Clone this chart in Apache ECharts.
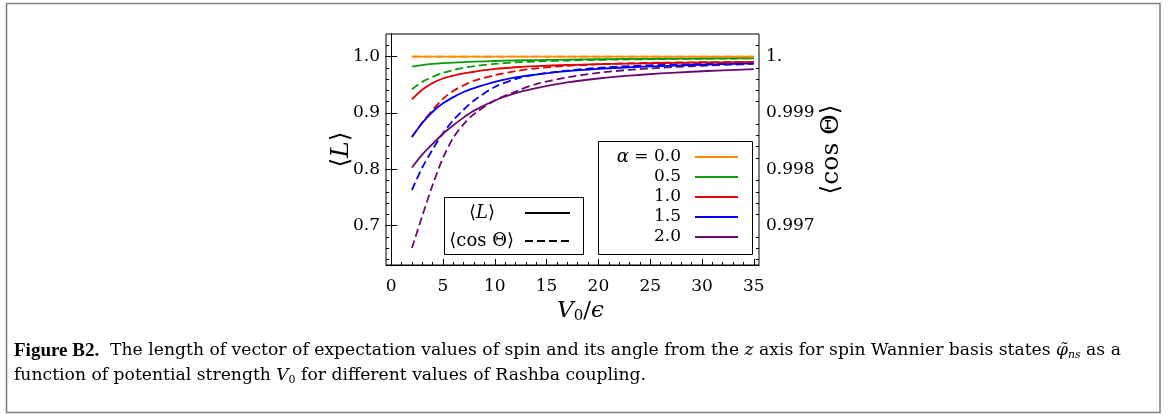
<!DOCTYPE html>
<html>
<head>
<meta charset="utf-8">
<script src="https://cdn.jsdelivr.net/npm/echarts@6/dist/echarts.min.js"></script>
<style>
html,body{margin:0;padding:0;background:#fff;}
#c{width:1174px;height:414px;}
</style>
</head>
<body>
<div id="c"></div>
<script>
// ---------------- data ----------------
const V0 = [2,3,4,5,6,7,8,10,12,14,17,20,23,26,29,32,35];
const alphaLabels = ['0.0','0.5','1.0','1.5','2.0'];
const colors = ['#ff8c00','#0a9a0a','#e00000','#0000ee','#6a0a70'];

// <L> (solid lines, left axis)
const L_a00 = [1,1,1,1,1,1,1,1,1,1,1,1,1,1,1,1,1];
const L_a05 = [0.982,0.9848,0.9868,0.9882,0.9893,0.9902,0.9909,0.9921,0.993,0.9937,0.9946,0.9952,0.9957,0.9961,0.9964,0.9967,0.997];
const L_a10 = [0.924,0.941,0.953,0.961,0.966,0.970,0.973,0.978,0.981,0.983,0.985,0.9865,0.9875,0.9885,0.9892,0.9898,0.9903];
const L_a15 = [0.857,0.882,0.902,0.917,0.928,0.937,0.944,0.955,0.963,0.968,0.974,0.978,0.981,0.983,0.985,0.9865,0.988];
const L_a20 = [0.803,0.826,0.845,0.863,0.878,0.892,0.904,0.922,0.935,0.944,0.954,0.961,0.966,0.970,0.973,0.9755,0.9776];

// <cos Theta> (dashed lines, right axis)
const C_a00 = [1,1,1,1,1,1,1,1,1,1,1,1,1,1,1,1,1];
const C_a05 = [0.99942,0.99955,0.99964,0.99971,0.99976,0.9998,0.99983,0.99987,0.999895,0.999912,0.99993,0.999941,0.999949,0.999955,0.99996,0.999964,0.999967];
const C_a10 = [0.99857,0.99883,0.99905,0.99925,0.99939,0.99949,0.99957,0.99967,0.99974,0.99979,0.999835,0.999862,0.99988,0.99989,0.999897,0.999902,0.999906];
const C_a15 = [0.99763,0.99803,0.99835,0.99864,0.99887,0.99906,0.99922,0.99946,0.9996,0.99968,0.99975,0.9998,0.99983,0.99985,0.999865,0.999878,0.99989];
const C_a20 = [0.9966,0.99717,0.99772,0.9982,0.99856,0.9988,0.99898,0.99922,0.99938,0.99951,0.99963,0.99971,0.999765,0.9998,0.999828,0.99985,0.999868];

// ticks
const xTicks = [0,5,10,15,20,25,30,35];
const xMinor = [1,2,3,4,6,7,8,9,11,12,13,14,16,17,18,19,21,22,23,24,26,27,28,29,31,32,33,34];
const yTicks = [0.7,0.8,0.9,1.0];
const yTickLabels = ['0.7','0.8','0.9','1.0'];
const yMinor = [0.64,0.66,0.68,0.72,0.74,0.76,0.78,0.82,0.84,0.86,0.88,0.92,0.94,0.96,0.98,1.02];
const y2Ticks = [0.997,0.998,0.999,1.0];
const y2TickLabels = ['0.997','0.998','0.999','1.'];
const y2Minor = [0.9964,0.9966,0.9968,0.9972,0.9974,0.9976,0.9978,0.9982,0.9984,0.9986,0.9988,0.9992,0.9994,0.9996,0.9998,1.0002];

const styleLabels = ['⟨{i|L}⟩','⟨cos Θ⟩'];

// ---------------- chart ----------------
const FONT = 'DejaVu Serif';
const LS = [L_a00,L_a05,L_a10,L_a15,L_a20];
const CS = [C_a00,C_a05,C_a10,C_a15,C_a20];
const zip = (xs, ys) => xs.map((x,i)=>[x, ys[i]]);

const series = [];
for (let k = 4; k >= 0; k--) {
  series.push({
    type:'line', xAxisIndex:0, yAxisIndex:1, data: zip(V0, CS[k]),
    showSymbol:false, smooth:0.3,
    lineStyle:{color:colors[k], width:1.8, type:[8,4]}, z:2
  });
}
for (let k = 4; k >= 0; k--) {
  series.push({
    type:'line', xAxisIndex:0, yAxisIndex:0, data: zip(V0, LS[k]),
    showSymbol:false, smooth:0.3,
    lineStyle:{color:colors[k], width:1.8}, z:3
  });
}

const tickFont = {fontFamily:FONT, fontSize:17, color:'#000'};
const black = {color:'#000', width:1};

const graphic = [];
// outer frame
graphic.push({type:'rect', shape:{x:6.5,y:3.5,width:1153.5,height:409}, style:{fill:null, stroke:'#808080', lineWidth:1.6}, silent:true});
// legend: alpha values
graphic.push({type:'rect', shape:{x:598.5,y:141.5,width:154,height:113}, style:{fill:'#fff', stroke:'#000', lineWidth:1}, z:10});
alphaLabels.forEach((lab,i)=>{
  const y = 157 + i*20;
  graphic.push({type:'text', x:681, y:y, z:11, style:{
    text: i===0 ? '{i|α} = '+lab : lab, align:'right', verticalAlign:'middle',
    fontFamily:FONT, fontSize:17, fill:'#000',
    rich:{i:{fontStyle:'italic', fontFamily:FONT, fontSize:18}}
  }});
  graphic.push({type:'line', z:11, shape:{x1:695,y1:y,x2:738,y2:y}, style:{stroke:colors[i], lineWidth:1.8}});
});
// legend: line styles
graphic.push({type:'rect', shape:{x:444.5,y:197.5,width:139,height:57}, style:{fill:'#fff', stroke:'#000', lineWidth:1}, z:10});
styleLabels.forEach((lab,i)=>{
  const y = 213 + i*28;
  graphic.push({type:'text', x: i===0 ? 482 : 514, y:y, z:11, style:{
    text: lab, align: i===0 ? 'center' : 'right', verticalAlign:'middle',
    fontFamily:FONT, fontSize:18, fill:'#000',
    rich:{i:{fontStyle:'italic', fontFamily:FONT, fontSize:18}}
  }});
  graphic.push({type:'line', z:11, shape:{x1:525,y1:y,x2:570,y2:y}, style:{stroke:'#000', lineWidth:1.8, lineDash: i===0 ? null : [8,4]}});
});
// caption
const capRich = {
  b:{fontWeight:'bold', fontFamily:'Liberation Serif', fontSize:19},
  i:{fontStyle:'italic', fontFamily:FONT, fontSize:17},
  s:{fontStyle:'italic', fontFamily:FONT, fontSize:11, padding:[9,0,0,0]},
  s0:{fontFamily:FONT, fontSize:11, padding:[9,0,0,0]}
};
graphic.push({type:'text', x:14, y:351, style:{
  text:'{b|Figure B2.}  The length of vector of expectation values of spin and its angle from the {i|z} axis for spin Wannier basis states {i|φ̃}{s|ns} as a',
  verticalAlign:'middle', fontFamily:FONT, fontSize:17.2, fill:'#000', rich:capRich}});
graphic.push({type:'text', x:14, y:376, style:{
  text:'function of potential strength {i|V}{s0|0} for different values of Rashba coupling.',
  verticalAlign:'middle', fontFamily:FONT, fontSize:17.2, fill:'#000', rich:capRich}});

const option = {
  animation:false,
  backgroundColor:'#fff',
  grid:{left:386, right:415, top:34, bottom:149, show:true, borderColor:'#000', borderWidth:1, backgroundColor:'transparent'},
  xAxis:[
    {type:'value', min:-0.5, max:35.5, position:'bottom',
     axisLine:{show:true, lineStyle:black},
     axisTick:{show:true, inside:true, length:6, customValues:xTicks, lineStyle:black},
     axisLabel:{customValues:xTicks, margin:13, ...tickFont},
     splitLine:{show:false},
     name:'{i|V}{s|0}/{i|ϵ}', nameLocation:'middle', nameGap:34,
     nameTextStyle:{fontFamily:FONT, fontSize:23, color:'#000', padding:[0,0,0,16],
       rich:{i:{fontStyle:'italic', fontFamily:FONT, fontSize:23}, s:{fontFamily:FONT, fontSize:15, padding:[10,0,0,0]}}}
    },
    {type:'value', min:-0.5, max:35.5, position:'bottom',
     axisLine:{show:false}, axisLabel:{show:false}, splitLine:{show:false},
     axisTick:{show:true, inside:true, length:3, customValues:xMinor, lineStyle:black}}
  ],
  yAxis:[
    {type:'value', min:0.63, max:1.04, position:'left',
     axisLine:{show:true, lineStyle:black},
     axisTick:{show:true, inside:true, length:6, customValues:yTicks, lineStyle:black},
     axisLabel:{customValues:yTicks, margin:6, formatter:(v)=>yTickLabels[yTicks.findIndex(t=>Math.abs(t-v)<1e-9)], ...tickFont},
     splitLine:{show:false},
     name:'⟨{i|L}⟩', nameLocation:'middle', nameGap:32, nameRotate:90, nameMoveOverlap:false,
     nameTextStyle:{fontFamily:FONT, fontSize:25, color:'#000', rich:{i:{fontStyle:'italic', fontFamily:FONT, fontSize:25}}}
    },
    {type:'value', min:0.9963, max:1.0004, position:'right',
     axisLine:{show:true, lineStyle:black},
     axisTick:{show:true, inside:true, length:6, customValues:y2Ticks, lineStyle:black},
     axisLabel:{customValues:y2Ticks, margin:7, formatter:(v)=>y2TickLabels[y2Ticks.findIndex(t=>Math.abs(t-v)<1e-9)], ...tickFont},
     splitLine:{show:false},
     name:'⟨cos Θ⟩', nameLocation:'middle', nameGap:60, nameRotate:90,
     nameTextStyle:{fontFamily:FONT, fontSize:25, color:'#000'}
    },
    {type:'value', min:0.63, max:1.04, position:'left',
     axisLine:{show:false}, axisLabel:{show:false}, splitLine:{show:false},
     axisTick:{show:true, inside:true, length:3, customValues:yMinor, lineStyle:black}},
    {type:'value', min:0.9963, max:1.0004, position:'right',
     axisLine:{show:false}, axisLabel:{show:false}, splitLine:{show:false},
     axisTick:{show:true, inside:true, length:3, customValues:y2Minor, lineStyle:black}}
  ],
  series: series,
  graphic: graphic
};
const chart = echarts.init(document.getElementById('c'), null, {renderer:'canvas'});
chart.setOption(option);
</script>
</body>
</html>
